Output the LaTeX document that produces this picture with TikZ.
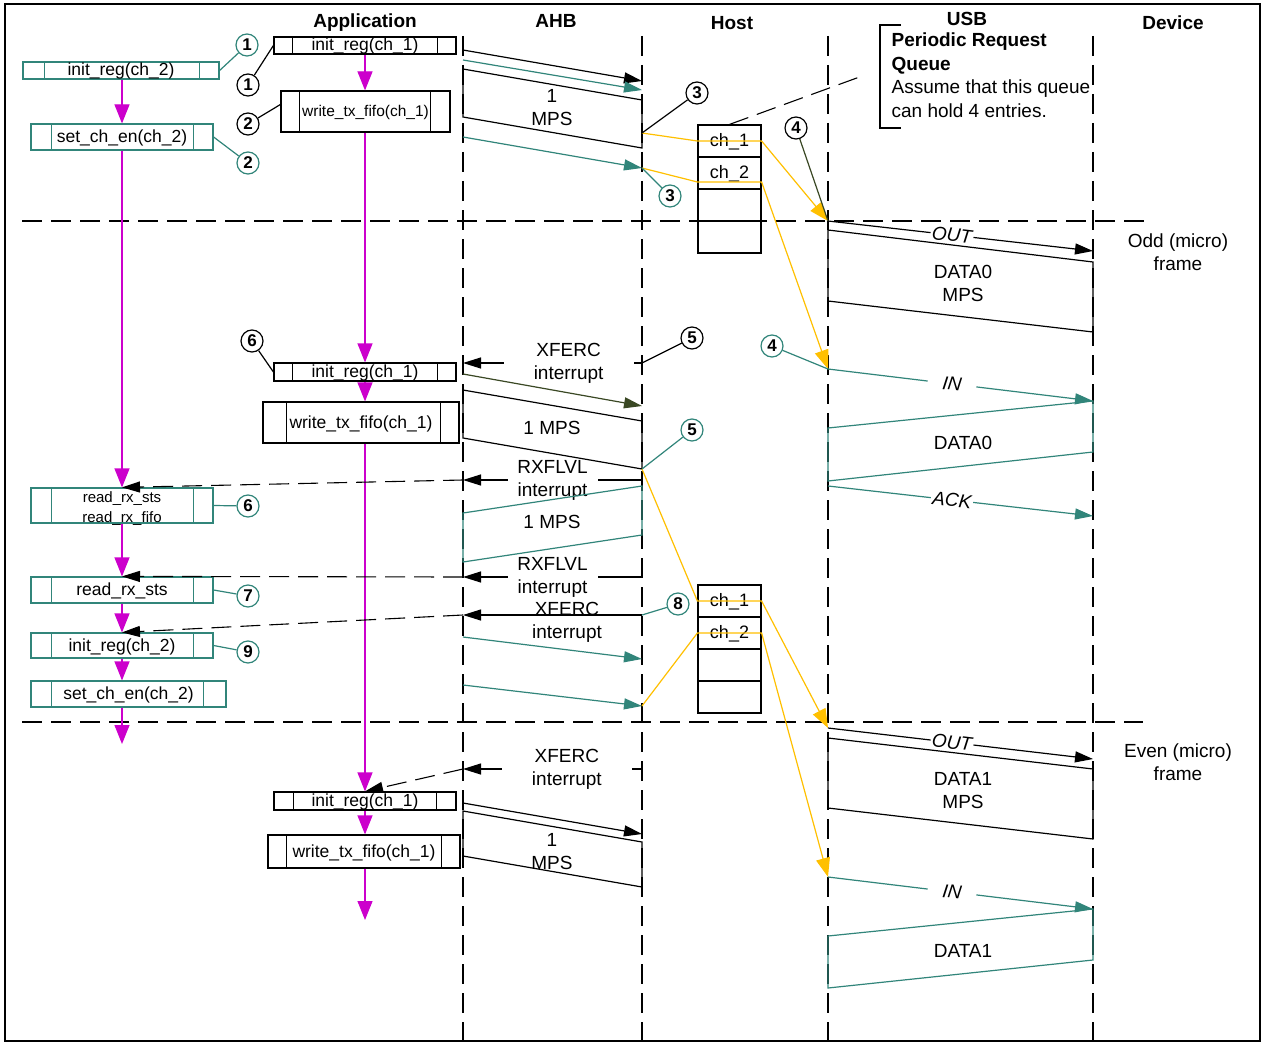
\documentclass[tikz,border=0pt]{standalone}
\usepackage{fontspec}
\setmainfont{Liberation Sans}
\usetikzlibrary{arrows.meta}
\definecolor{tl}{RGB}{49,133,122}
\definecolor{mg}{RGB}{204,0,204}
\definecolor{yl}{RGB}{255,192,0}
\definecolor{ol}{RGB}{58,72,36}
\newcommand\divs[4]{\draw[#4] ([xshift=#2pt]#1.north west) -- ([xshift=#2pt]#1.south west) ([xshift=-#3pt]#1.north east) -- ([xshift=-#3pt]#1.south east);}
\begin{document}
\begin{tikzpicture}[x=1pt,y=-1pt,line width=1.2pt,
  lf/.style={dash pattern=on 20pt off 9pt, line width=1.1pt},
  ah/.style={-{Triangle[length=18pt,width=11pt]}},
  ahm/.style={mg,-{Triangle[length=19pt,width=15pt]}},
  ahy/.style={yl,-{Triangle[length=19pt,width=14pt]}},
  hd/.style={font=\bfseries\fontsize{19}{23}\selectfont, inner sep=0pt},
  lbl/.style={font=\fontsize{19}{23}\selectfont, align=center, inner sep=0pt},
  gap/.style={lbl, fill=white, text=black},
  ital/.style={font=\itshape\fontsize{19}{23}\selectfont, fill=white, inner sep=1.5pt, sloped, text=black},
  pbox/.style={draw, rectangle, inner sep=0pt, text height=13pt, text depth=2pt, font=\fontsize{17.5}{20}\selectfont, text=black},
  num/.style={circle, draw, fill=white, minimum size=22pt, inner sep=0pt, text=black, font=\bfseries\fontsize{17}{17}\selectfont},
  qc/.style={draw, rectangle, minimum width=63pt, minimum height=32pt, inner sep=0pt, text height=13pt, text depth=2pt, font=\fontsize{18}{20}\selectfont}
]
% page
\fill[white] (0,0) rectangle (1265,1043);
\useasboundingbox (0,0) rectangle (1265,1043);
\draw[line width=1.8pt] (5,4) rectangle (1260,1041);

% lifelines
\foreach \x/\n in {463/ahb,642/host,828/usb,1093/dev}{
  \coordinate (\n T) at (\x,36); \coordinate (\n B) at (\x,1040);
  \draw[lf] (\n T) -- (\n B);}
\coordinate (f1a) at (22,221); \coordinate (f1b) at (1145,221);
\coordinate (f2a) at (22,722); \coordinate (f2b) at (1143,722);
\draw[lf] (f1a) -- (f1b);
\draw[lf] (f2a) -- (f2b);

% headings
\node[hd] (hApp) at (365,22.5) {Application};
\node[hd] (hAHB) at (556,21) {AHB};
\node[hd] (hHost) at (732,23) {Host};
\node[hd] (hUSB) at (967,19) {USB};
\node[hd] (hDev) at (1173,23) {Device};

% periodic request queue note
\draw (901,25) -- (880,25) -- (880,128) -- (901,128);
\node[lbl, align=left, anchor=north west, font=\fontsize{19}{23.7}\selectfont] (prq) at (891,32)
  {\textbf{Periodic Request}\\\textbf{Queue}\\Assume that this queue\\can hold 4 entries.};

% frame labels
\node[lbl] (odd) at (1178,252) {Odd (micro)\\frame};
\node[lbl] (even) at (1178,762) {Even (micro)\\frame};

% host queues
\node[qc] (Q1) at (729.5,141) {ch\_1};
\node[qc] (Q2) at (729.5,173) {ch\_2};
\node[qc] (Q3) at (729.5,205) {};
\node[qc] (Q4) at (729.5,237) {};
\node[qc] (Q5) at (729.5,601) {ch\_1};
\node[qc] (Q6) at (729.5,633) {ch\_2};
\node[qc] (Q7) at (729.5,665) {};
\node[qc] (Q8) at (729.5,697) {};
\coordinate (qd) at (865,75);
\draw[lf] (Q1.north) -- (qd);

% application boxes
\node[pbox, minimum width=182pt, minimum height=17pt] (A1) at (365,45.5) {init\_reg(ch\_1)}; \divs{A1}{19}{19}{}
\node[pbox, minimum width=169pt, minimum height=41pt, font=\fontsize{15.5}{18}\selectfont] (A2) at (365.5,111.5) {write\_tx\_fifo(ch\_1)}; \divs{A2}{19}{20}{}
\node[pbox, minimum width=182pt, minimum height=18pt] (A3) at (365,372) {init\_reg(ch\_1)}; \divs{A3}{19}{19}{}
\node[pbox, minimum width=196pt, minimum height=41pt] (A4) at (361,422.5) {write\_tx\_fifo(ch\_1)}; \divs{A4}{24}{19}{}
\node[pbox, minimum width=182pt, minimum height=18pt] (A5) at (365,801) {init\_reg(ch\_1)}; \divs{A5}{20}{20}{}
\node[pbox, minimum width=192pt, minimum height=33pt] (A6) at (364,851.5) {write\_tx\_fifo(ch\_1)}; \divs{A6}{19}{19}{}

\node[pbox, draw=tl, minimum width=196pt, minimum height=17pt] (B1) at (121,70.5) {init\_reg(ch\_2)}; \divs{B1}{22}{20}{tl}
\node[pbox, draw=tl, minimum width=182pt, minimum height=26pt] (B2) at (122,137) {set\_ch\_en(ch\_2)}; \divs{B2}{21}{20}{tl}
\node[pbox, draw=tl, minimum width=182pt, minimum height=35pt] (B3) at (122,505.5) {}; \divs{B3}{21}{20}{tl}
\node[lbl, font=\fontsize{15}{19.5}\selectfont] (B3t) at (122,508.5) {read\_rx\_sts\\read\_rx\_fifo};
\node[pbox, draw=tl, minimum width=182pt, minimum height=26pt] (B4) at (122,590) {read\_rx\_sts}; \divs{B4}{21}{20}{tl}
\node[pbox, draw=tl, minimum width=182pt, minimum height=25pt] (B5) at (122,645.5) {init\_reg(ch\_2)}; \divs{B5}{21}{20}{tl}
\node[pbox, draw=tl, minimum width=195pt, minimum height=26pt] (B6) at (128.5,694) {set\_ch\_en(ch\_2)}; \divs{B6}{21}{23}{tl}

% magenta flow
\coordinate (endA) at (365,920);
\coordinate (endB) at (122,744);
\draw[ahm] (A1.south) -- (A1.south |- A2.north);
\draw[ahm] (A2.south -| A1.south) -- (A1.south |- A3.north);
\draw[ahm] (A3.south) -- (A3.south |- A4.north);
\draw[ahm] (A4.south -| A3.south) -- (A3.south |- A5.north);
\draw[ahm] (A5.south) -- (A5.south |- A6.north);
\draw[ahm] (A6.south -| A5.south) -- (endA);
\draw[ahm] (B2.north |- B1.south) -- (B2.north);
\draw[ahm] (B2.south) -- (B3.north);
\draw[ahm] (B3.south) -- (B4.north);
\draw[ahm] (B4.south) -- (B5.north);
\draw[ahm] (B5.south) -- (B5.south |- B6.north);
\draw[ahm] (B6.south -| B5.south) -- (endB);

% interrupts (host -> AHB -> application)
\coordinate (x1h) at (642,363); \coordinate (x1a) at (463,363);
\draw[ah] (x1h) -- node[gap, minimum width=130pt, pos=0.41] (x1l) {XFERC\\interrupt} (x1a);
\coordinate (r1h) at (642,480); \coordinate (r1a) at (463,480);
\draw[ah] (r1h) -- node[gap, minimum width=90pt, pos=0.5] (r1l) {RXFLVL\\interrupt} (r1a);
\draw[ah, lf] (r1a) -- (B3.north);
\coordinate (r2h) at (642,577); \coordinate (r2a) at (463,577);
\draw[ah] (r2h) -- node[gap, minimum width=90pt, pos=0.5] (r2l) {RXFLVL\\interrupt} (r2a);
\draw[ah, lf] (r2a) -- (B4.north);
\coordinate (x2h) at (642,615); \coordinate (x2a) at (463,615);
\draw[ah] (x2h) -- (x2a);
\node[lbl] (x2l) at (567,622) {XFERC\\interrupt};
\draw[ah, lf] (x2a) -- (B5.north);
\coordinate (x3h) at (642,769); \coordinate (x3a) at (463,769);
\draw[ah] (x3h) -- node[gap, minimum width=130pt, pos=0.42] (x3l) {XFERC\\interrupt} (x3a);
\draw[ah, lf] (x3a) -- (A5.north);

% AHB transfers
\coordinate (a1s) at (463,50); \coordinate (a1e) at (642,81);
\coordinate (a2s) at (463,60); \coordinate (a2e) at (642,90);
\coordinate (a3s) at (463,137); \coordinate (a3e) at (642,168);
\coordinate (a4s) at (463,374); \coordinate (a4e) at (642,406);
\coordinate (a5s) at (463,637); \coordinate (a5e) at (642,659);
\coordinate (a6s) at (463,685); \coordinate (a6e) at (642,706);
\coordinate (a7s) at (463,803); \coordinate (a7e) at (642,834);
\draw[ah] (a1s) -- (a1e);
\draw[ah, tl] (a2s) -- (a2e);
\draw[ah, tl] (a3s) -- (a3e);
\draw[ah, ol] (a4s) -- (a4e);
\draw[ah, tl] (a5s) -- (a5e);
\draw[ah, tl] (a6s) -- (a6e);
\draw[ah] (a7s) -- (a7e);

\coordinate (p1a) at (463,69); \coordinate (p1b) at (642,100); \coordinate (p1c) at (642,148); \coordinate (p1d) at (463,117);
\coordinate (p1r) at (642,133);
\draw (p1a) -- (p1b) -- (p1c) -- (p1d) -- cycle;
\node[lbl] (p1t) at (552,107.5) {1\\MPS};
\coordinate (p2a) at (463,390); \coordinate (p2b) at (642,421); \coordinate (p2c) at (642,469); \coordinate (p2d) at (463,438);
\draw (p2a) -- (p2b) -- (p2c) -- (p2d) -- cycle;
\node[lbl] (p2t) at (552,428) {1 MPS};
\coordinate (p3a) at (463,513); \coordinate (p3b) at (642,486); \coordinate (p3c) at (642,535); \coordinate (p3d) at (463,562);
\draw[tl] (p3a) -- (p3b) -- (p3c) -- (p3d) -- cycle;
\node[lbl] (p3t) at (552,522) {1 MPS};
\coordinate (p4a) at (463,811); \coordinate (p4b) at (642,842); \coordinate (p4c) at (642,887); \coordinate (p4d) at (463,856);
\draw (p4a) -- (p4b) -- (p4c) -- (p4d) -- cycle;
\node[lbl] (p4t) at (552,851.5) {1\\MPS};

% USB transactions
\coordinate (u1) at (828,221); \coordinate (d1) at (1093,251);
\draw[ah] (u1) -- node[ital, pos=0.468] (outl1) {OUT} (d1);
\coordinate (q1a) at (828,230); \coordinate (q1b) at (1093,262); \coordinate (q1c) at (1093,332); \coordinate (q1d) at (828,301);
\draw (q1a) -- (q1b) -- (q1c) -- (q1d) -- cycle;
\node[lbl] (q1t) at (963,283.5) {DATA0\\MPS};
\coordinate (in1s) at (828,369); \coordinate (in1e) at (1093,401);
\draw[ah, tl] (in1s) -- node[ital, pos=0.468, inner xsep=15pt] (inl1) {IN} (in1e);
\coordinate (q2a) at (828,428); \coordinate (q2b) at (1093,401); \coordinate (q2c) at (1093,452); \coordinate (q2d) at (828,481);
\draw[tl] (q2a) -- (q2b) -- (q2c) -- (q2d) -- cycle;
\node[lbl] (q2t) at (963,443) {DATA0};
\coordinate (ak1) at (828,486); \coordinate (ak2) at (1093,516);
\draw[ah, tl] (ak1) -- node[ital, pos=0.468] (ackl) {ACK} (ak2);

\coordinate (out2s) at (828,728); \coordinate (out2e) at (1093,759);
\draw[ah] (out2s) -- node[ital, pos=0.468] (outl2) {OUT} (out2e);
\coordinate (q3a) at (828,738); \coordinate (q3b) at (1093,769); \coordinate (q3c) at (1093,839); \coordinate (q3d) at (828,808);
\draw (q3a) -- (q3b) -- (q3c) -- (q3d) -- cycle;
\node[lbl] (q3t) at (963,791) {DATA1\\MPS};
\coordinate (in2s) at (828,877); \coordinate (in2e) at (1093,909);
\draw[ah, tl] (in2s) -- node[ital, pos=0.468, inner xsep=15pt] (inl2) {IN} (in2e);
\coordinate (q4a) at (828,936); \coordinate (q4b) at (1093,909); \coordinate (q4c) at (1093,960); \coordinate (q4d) at (828,988);
\draw[tl] (q4a) -- (q4b) -- (q4c) -- (q4d) -- cycle;
\node[lbl] (q4t) at (963,951) {DATA1};

% queue scheduling (yellow)
\draw[ahy] (p1r) -- (Q1.west) -- (Q1.east) -- (u1);
\draw[ahy] (a3e) -- ([yshift=-9pt]Q2.west) -- ([yshift=-9pt]Q2.east) -- (in1s);
\draw[ahy] (p2c) -- (Q5.west) -- (Q5.east) -- (out2s);
\draw[ahy] (a6e) -- (Q6.west) -- (Q6.east) -- (in2s);

% numbered markers
\node[num, draw=tl] (C1t) at (247,45) {1};
\node[num] (C1b) at (248,85) {1};
\node[num] (C2b) at (248,124) {2};
\node[num, draw=tl] (C2t) at (248,163) {2};
\node[num] (C3b) at (697,93) {3};
\node[num, draw=tl] (C3t) at (670,196) {3};
\node[num] (C4b) at (796,128) {4};
\node[num] (C5b) at (692,338) {5};
\node[num, draw=tl] (C5t) at (692,430) {5};
\node[num, draw=tl] (C4t) at (772,346) {4};
\node[num] (C6b) at (252,341) {6};
\node[num, draw=tl] (C6t) at (248,506) {6};
\node[num, draw=tl] (C7t) at (248,596) {7};
\node[num, draw=tl] (C8t) at (678,604) {8};
\node[num, draw=tl] (C9t) at (248,652) {9};

\draw[tl] (B1.east) -- (C1t);
\draw (C1b) -- (A1.west);
\draw (C2b) -- ([yshift=7pt]A2.west);
\draw[tl] (B2.east) -- (C2t);
\draw (p1r) -- (C3b);
\draw[tl] (a3e) -- (C3t);
\draw[ol] (C4b) -- (u1);
\draw (x1h) -- (C5b);
\draw[tl] (p2c) -- (C5t);
\draw[tl] (C4t) -- (in1s);
\draw (C6b) -- (A3.west);
\draw[tl] (B3.east) -- (C6t);
\draw[tl] (B4.east) -- (C7t);
\draw[tl] (x2h) -- (C8t);
\draw[tl] (B5.east) -- (C9t);
\end{tikzpicture}
\end{document}
